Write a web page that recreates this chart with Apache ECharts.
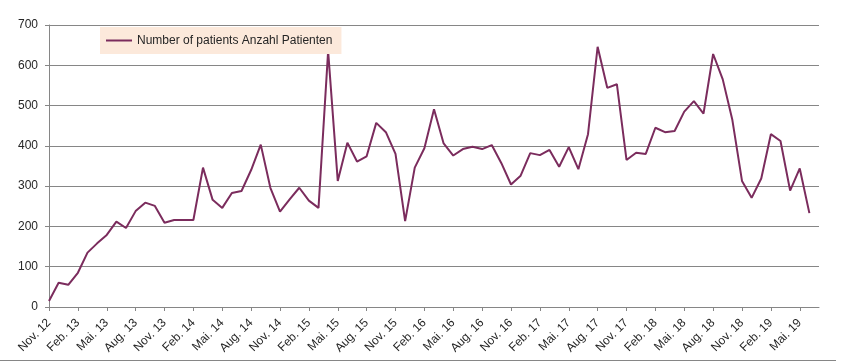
<!DOCTYPE html>
<html>
<head>
<meta charset="utf-8">
<script src="https://cdn.jsdelivr.net/npm/echarts@6/dist/echarts.min.js"></script>
<style>html,body{margin:0;padding:0;background:#fff;}#c{width:842px;height:362px;}</style>
</head>
<body>
<div id="c"></div>
<script>
const months = ['Jan.','Feb.','Mär.','Apr.','Mai.','Jun.','Jul.','Aug.','Sep.','Okt.','Nov.','Dez.'];
// categories: Nov. 12 through Jul. 19 (81 months)
const categories = [];
for (let i = 0; i < 81; i++) {
  const m = (10 + i) % 12;
  const y = 12 + Math.floor((10 + i) / 12);
  categories.push(months[m] + ' ' + y);
}
const seriesName = 'Number of patients Anzahl Patienten';
const patients = [
  15, 60, 55, 85, 135, 158, 179, 212, 196, 238, 259, 251,
  209, 216, 216, 216, 346, 266, 246, 283, 288, 340, 403, 296,
  237, 267, 296, 264, 246, 635, 313, 408, 361, 374, 457, 434,
  380, 213, 346, 394, 491, 406, 376, 392, 398, 392, 402, 357,
  304, 326, 382, 377, 390, 348, 397, 342, 429, 646, 544, 553,
  365, 383, 380, 445, 434, 437, 485, 511, 480, 628, 565, 464,
  313, 271, 319, 429, 412, 289, 344, 233
];
const yTicks = [0, 100, 200, 300, 400, 500, 600, 700];

const chart = echarts.init(document.getElementById('c'), null, {renderer: 'canvas'});
const font = 'Liberation Sans';
chart.setOption({
  animation: false,
  textStyle: {fontFamily: font},
  grid: {left: 49, right: 23, top: 25, bottom: 55, containLabel: false},
  legend: {
    left: 100, top: 27,
    backgroundColor: '#fce9db',
    padding: [6, 9, 6, 6],
    itemWidth: 26, itemHeight: 2,
    icon: 'rect',
    itemGap: 6,
    textStyle: {fontFamily: font, fontSize: 12, color: '#262626', lineHeight: 14, padding: [1, 0, 0, 0]},
    data: [seriesName],
    z: 10
  },
  xAxis: {
    type: 'category',
    data: categories,
    boundaryGap: false,
    axisLine: {lineStyle: {color: '#868686', width: 1}},
    axisTick: {show: true, interval: 2, length: 4, lineStyle: {color: '#868686'}},
    axisLabel: {interval: 2, rotate: 45, fontSize: 12, color: '#262626', margin: 14, fontFamily: font},
    splitLine: {show: false}
  },
  yAxis: {
    type: 'value',
    min: yTicks[0], max: yTicks[yTicks.length - 1], interval: 100,
    axisLine: {show: true, lineStyle: {color: '#868686', width: 1}},
    axisTick: {show: true, length: 4, lineStyle: {color: '#868686'}},
    axisLabel: {fontSize: 12, color: '#262626', margin: 11, fontFamily: font},
    splitLine: {show: true, lineStyle: {color: '#868686', width: 1}}
  },
  series: [{
    name: seriesName,
    type: 'line',
    data: patients,
    showSymbol: false,
    symbol: 'none',
    lineStyle: {color: '#7b2c5d', width: 2},
    itemStyle: {color: '#7b2c5d'},
    z: 2
  }],
  graphic: [{
    type: 'line',
    shape: {x1: 0, y1: 360.5, x2: 836, y2: 360.5},
    style: {stroke: '#868686', lineWidth: 1}
  }]
});
</script>
</body>
</html>
